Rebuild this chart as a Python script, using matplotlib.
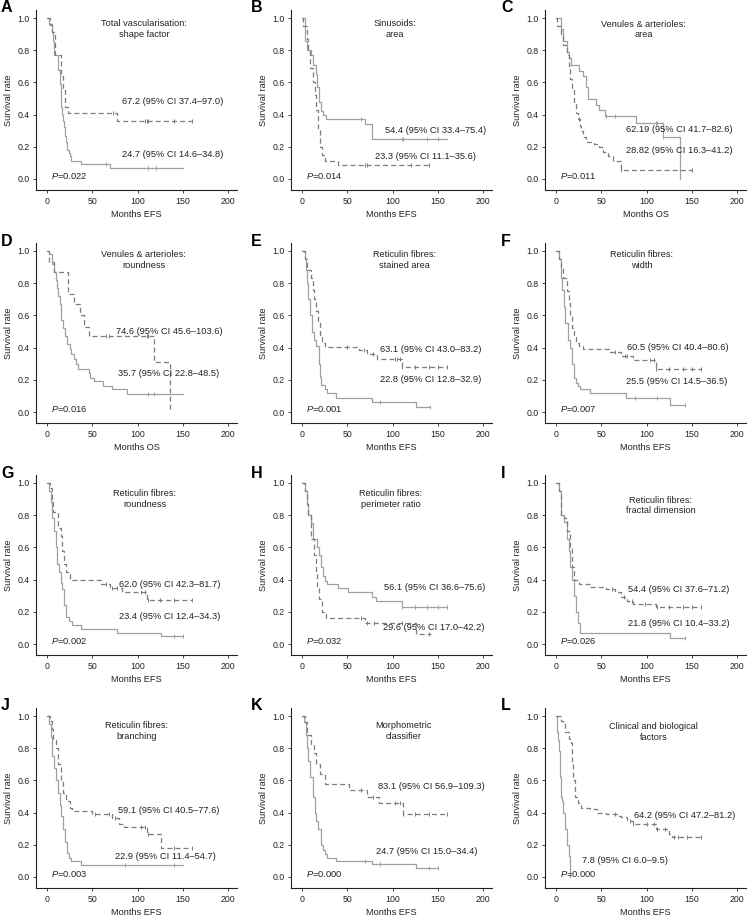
import numpy as np
import matplotlib.pyplot as plt

plt.rcParams['font.family'] = ['Liberation Sans', 'DejaVu Sans']
plt.rcParams['mathtext.fontset'] = 'custom'
plt.rcParams['mathtext.it'] = 'Liberation Sans:italic'
plt.rcParams['mathtext.rm'] = 'Liberation Sans'

### DATA ------------------------
# each curve: event times, survival after each event, end of follow-up, censored times
letters = ['A', 'B', 'C', 'D', 'E', 'F', 'G', 'H', 'I', 'J', 'K', 'L']
titles = ['Total vascularisation:\nshape factor', 'Sinusoids:\narea', 'Venules & arterioles:\narea',
          'Venules & arterioles:\nroundness', 'Reticulin fibres:\nstained area', 'Reticulin fibres:\nwidth',
          'Reticulin fibres:\nroundness', 'Reticulin fibres:\nperimeter ratio', 'Reticulin fibres:\nfractal dimension',
          'Reticulin fibres:\nbranching', 'Morphometric\nclassifier', 'Clinical and biological\nfactors']
xlabels = ['Months EFS', 'Months EFS', 'Months OS', 'Months OS', 'Months EFS', 'Months EFS',
           'Months EFS', 'Months EFS', 'Months EFS', 'Months EFS', 'Months EFS', 'Months EFS']
pvalues = ['0.022', '0.014', '0.011', '0.016', '0.001', '0.007', '0.002', '0.032', '0.026', '0.003', '0.000', '0.000']
solid_labels = ['24.7 (95% CI 14.6–34.8)', '54.4 (95% CI 33.4–75.4)', '62.19 (95% CI 41.7–82.6)',
                '35.7 (95% CI 22.8–48.5)', '22.8 (95% CI 12.8–32.9)', '25.5 (95% CI 14.5–36.5)',
                '23.4 (95% CI 12.4–34.3)', '56.1 (95% CI 36.6–75.6)', '21.8 (95% CI 10.4–33.2)',
                '22.9 (95% CI 11.4–54.7)', '24.7 (95% CI 15.0–34.4)', '7.8 (95% CI 6.0–9.5)']
dash_labels = ['67.2 (95% CI 37.4–97.0)', '23.3 (95% CI 11.1–35.6)', '28.82 (95% CI 16.3–41.2)',
               '74.6 (95% CI 45.6–103.6)', '63.1 (95% CI 43.0–83.2)', '60.5 (95% CI 40.4–80.6)',
               '62.0 (95% CI 42.3–81.7)', '29.6 (95% CI 17.0–42.2)', '54.4 (95% CI 37.6–71.2)',
               '59.1 (95% CI 40.5–77.6)', '83.1 (95% CI 56.9–109.3)', '64.2 (95% CI 47.2–81.2)']

# A
a_sol_t = [2, 5, 7, 8, 12, 14, 15, 16, 17, 18, 19, 20, 21, 22, 24, 25, 27, 38, 70]
a_sol_s = [0.96, 0.91, 0.86, 0.77, 0.68, 0.59, 0.55, 0.45, 0.40, 0.36, 0.32, 0.27, 0.23, 0.18, 0.16, 0.14, 0.114, 0.093, 0.07]
a_sol_end, a_sol_c = 150, [65, 112, 120]
a_dsh_t = [3, 6, 9, 15, 18, 20, 23, 77]
a_dsh_s = [0.955, 0.91, 0.77, 0.64, 0.55, 0.45, 0.41, 0.36]
a_dsh_end, a_dsh_c = 160, [73, 108, 110, 112, 140, 160]
# B
b_sol_t = [3, 5, 10, 12, 15, 17, 19, 21, 23, 27, 70, 77]
b_sol_s = [0.86, 0.80, 0.77, 0.71, 0.65, 0.57, 0.48, 0.42, 0.40, 0.37, 0.34, 0.25]
b_sol_end, b_sol_c = 160, [65, 110, 112, 138, 150]
b_dsh_t = [1, 5, 7, 9, 12, 14, 16, 18, 20, 22, 25, 40]
b_dsh_s = [0.95, 0.87, 0.80, 0.69, 0.60, 0.52, 0.43, 0.31, 0.20, 0.15, 0.11, 0.085]
b_dsh_end, b_dsh_c = 142, [70, 72, 120, 140]
# C
c_sol_t = [5, 8, 12, 14, 17, 25, 30, 33, 35, 44, 47, 54, 88, 118, 137]
c_sol_s = [0.93, 0.86, 0.79, 0.75, 0.71, 0.67, 0.64, 0.57, 0.50, 0.46, 0.43, 0.39, 0.35, 0.26, 0.0]
c_sol_end, c_sol_c = 137, [55, 65, 110, 112, 118]
c_dsh_t = [1, 5, 8, 12, 14, 16, 18, 20, 22, 24, 26, 28, 30, 33, 42, 48, 52, 58, 63, 72]
c_dsh_s = [0.95, 0.90, 0.83, 0.77, 0.70, 0.62, 0.55, 0.48, 0.41, 0.37, 0.33, 0.30, 0.26, 0.23, 0.22, 0.20, 0.17, 0.14, 0.11, 0.055]
c_dsh_end, c_dsh_c = 150, [25, 72, 150]
# D
d_sol_t = [2, 5, 6, 8, 10, 11, 12, 14, 15, 16, 18, 20, 22, 25, 27, 30, 32, 34, 46, 48, 52, 62, 72, 88]
d_sol_s = [0.98, 0.95, 0.92, 0.87, 0.82, 0.77, 0.72, 0.67, 0.62, 0.57, 0.52, 0.47, 0.42, 0.39, 0.36, 0.33, 0.30, 0.27, 0.24, 0.21, 0.19, 0.16, 0.14, 0.11]
d_sol_end, d_sol_c = 150, [112, 118]
d_dsh_t = [2, 8, 23, 30, 36, 41, 46, 118, 136]
d_dsh_s = [0.93, 0.87, 0.73, 0.67, 0.60, 0.53, 0.47, 0.31, 0.0]
d_dsh_end, d_dsh_c = 136, [65, 68, 110, 112]
# E
e_sol_t = [3, 4, 6, 7, 9, 11, 13, 15, 19, 20, 21, 25, 28, 38, 77, 126]
e_sol_s = [0.95, 0.88, 0.80, 0.70, 0.60, 0.50, 0.45, 0.41, 0.30, 0.22, 0.17, 0.14, 0.12, 0.09, 0.065, 0.03]
e_sol_end, e_sol_c = 141, [86, 141]
e_dsh_t = [3, 5, 10, 12, 13, 15, 18, 20, 22, 25, 63, 72, 83, 110]
e_dsh_s = [0.95, 0.88, 0.83, 0.76, 0.70, 0.63, 0.56, 0.48, 0.43, 0.405, 0.385, 0.36, 0.33, 0.28]
e_dsh_end, e_dsh_c = 160, [50, 68, 78, 103, 105, 108, 110, 125, 140, 150, 160]
# F
f_sol_t = [3, 5, 7, 9, 10, 13, 16, 18, 20, 22, 24, 27, 38, 77, 126]
f_sol_s = [0.95, 0.83, 0.76, 0.65, 0.55, 0.45, 0.40, 0.30, 0.21, 0.18, 0.16, 0.14, 0.115, 0.09, 0.045]
f_sol_end, f_sol_c = 142, [87, 112, 142]
f_dsh_t = [3, 5, 8, 12, 14, 16, 18, 20, 22, 25, 30, 60, 72, 85, 110]
f_dsh_s = [0.95, 0.90, 0.83, 0.75, 0.68, 0.60, 0.52, 0.48, 0.43, 0.41, 0.39, 0.37, 0.35, 0.32, 0.27]
f_dsh_end, f_dsh_c = 160, [65, 76, 78, 104, 108, 111, 125, 140, 150, 160]
# G
g_sol_t = [2, 4, 6, 8, 10, 11, 13, 15, 17, 19, 21, 24, 28, 38, 77, 126]
g_sol_s = [0.95, 0.88, 0.78, 0.70, 0.60, 0.50, 0.45, 0.38, 0.34, 0.24, 0.17, 0.14, 0.12, 0.095, 0.07, 0.048]
g_sol_end, g_sol_c = 150, [140, 150]
g_dsh_t = [3, 5, 7, 12, 15, 17, 19, 21, 25, 60, 70, 83, 110]
g_dsh_s = [0.97, 0.90, 0.82, 0.72, 0.67, 0.58, 0.50, 0.45, 0.395, 0.375, 0.35, 0.32, 0.275]
g_dsh_end, g_dsh_c = 160, [65, 72, 77, 104, 108, 112, 125, 140, 160]
# H
h_sol_t = [3, 5, 7, 10, 12, 17, 19, 21, 23, 25, 28, 40, 51, 77, 82, 110]
h_sol_s = [0.95, 0.87, 0.80, 0.75, 0.65, 0.60, 0.55, 0.48, 0.42, 0.39, 0.37, 0.35, 0.32, 0.29, 0.27, 0.23]
h_sol_end, h_sol_c = 160, [110, 125, 138, 150, 160]
h_dsh_t = [3, 5, 7, 10, 13, 15, 17, 19, 22, 26, 70, 126]
h_dsh_s = [0.95, 0.87, 0.80, 0.65, 0.55, 0.45, 0.35, 0.28, 0.20, 0.16, 0.13, 0.065]
h_dsh_end, h_dsh_c = 142, [65, 72, 80, 110, 140]
# I
i_sol_t = [3, 5, 9, 12, 14, 15, 18, 20, 22, 24, 27, 126]
i_sol_s = [0.95, 0.80, 0.76, 0.65, 0.58, 0.48, 0.40, 0.30, 0.20, 0.13, 0.07, 0.035]
i_sol_end, i_sol_c = 142, [142]
i_dsh_t = [3, 5, 9, 12, 15, 18, 20, 25, 38, 55, 65, 72, 78, 85, 110]
i_dsh_s = [0.95, 0.80, 0.78, 0.70, 0.60, 0.48, 0.40, 0.37, 0.355, 0.34, 0.32, 0.29, 0.27, 0.25, 0.23]
i_dsh_end, i_dsh_c = 160, [62, 75, 84, 98, 112, 125, 140, 150, 160]
# J
j_sol_t = [2, 4, 6, 8, 10, 12, 14, 16, 18, 20, 22, 24, 26, 38]
j_sol_s = [0.95, 0.87, 0.75, 0.68, 0.60, 0.52, 0.45, 0.38, 0.30, 0.22, 0.15, 0.12, 0.10, 0.075]
j_sol_end, j_sol_c = 150, [86, 140]
j_dsh_t = [3, 5, 7, 10, 12, 16, 18, 21, 25, 28, 50, 72, 80, 85, 110, 126]
j_dsh_s = [0.97, 0.92, 0.85, 0.80, 0.70, 0.60, 0.52, 0.47, 0.43, 0.41, 0.39, 0.365, 0.33, 0.31, 0.27, 0.18]
j_dsh_end, j_dsh_c = 160, [53, 68, 75, 104, 108, 112, 140, 160]
# K
k_sol_t = [2, 4, 5, 7, 9, 12, 14, 16, 18, 21, 23, 25, 28, 38, 77, 126]
k_sol_s = [0.96, 0.88, 0.80, 0.72, 0.62, 0.50, 0.40, 0.35, 0.30, 0.20, 0.17, 0.14, 0.12, 0.10, 0.08, 0.055]
k_sol_end, k_sol_c = 150, [70, 86, 140, 150]
k_dsh_t = [3, 5, 10, 13, 16, 20, 25, 52, 72, 85, 112]
k_dsh_s = [0.96, 0.88, 0.82, 0.77, 0.70, 0.64, 0.58, 0.54, 0.50, 0.46, 0.39]
k_dsh_end, k_dsh_c = 160, [65, 78, 103, 108, 112, 125, 140, 160]
# L
l_sol_t = [1, 2, 3, 4, 5, 7, 8, 10, 12, 14, 15, 16]
l_sol_s = [0.90, 0.85, 0.78, 0.62, 0.50, 0.47, 0.40, 0.30, 0.20, 0.13, 0.05, 0.0]
l_sol_end, l_sol_c = 16, []
l_dsh_t = [5, 8, 10, 14, 17, 18, 19, 21, 24, 28, 38, 45, 55, 68, 72, 78, 85, 110, 125, 128]
l_dsh_s = [0.97, 0.95, 0.90, 0.86, 0.83, 0.70, 0.60, 0.50, 0.46, 0.43, 0.42, 0.40, 0.39, 0.38, 0.37, 0.35, 0.33, 0.30, 0.27, 0.25]
l_dsh_end, l_dsh_c = 160, [65, 82, 85, 100, 108, 112, 120, 130, 135, 145, 160]

solid_curves = [(a_sol_t, a_sol_s, a_sol_end, a_sol_c), (b_sol_t, b_sol_s, b_sol_end, b_sol_c),
                (c_sol_t, c_sol_s, c_sol_end, c_sol_c), (d_sol_t, d_sol_s, d_sol_end, d_sol_c),
                (e_sol_t, e_sol_s, e_sol_end, e_sol_c), (f_sol_t, f_sol_s, f_sol_end, f_sol_c),
                (g_sol_t, g_sol_s, g_sol_end, g_sol_c), (h_sol_t, h_sol_s, h_sol_end, h_sol_c),
                (i_sol_t, i_sol_s, i_sol_end, i_sol_c), (j_sol_t, j_sol_s, j_sol_end, j_sol_c),
                (k_sol_t, k_sol_s, k_sol_end, k_sol_c), (l_sol_t, l_sol_s, l_sol_end, l_sol_c)]
dash_curves = [(a_dsh_t, a_dsh_s, a_dsh_end, a_dsh_c), (b_dsh_t, b_dsh_s, b_dsh_end, b_dsh_c),
               (c_dsh_t, c_dsh_s, c_dsh_end, c_dsh_c), (d_dsh_t, d_dsh_s, d_dsh_end, d_dsh_c),
               (e_dsh_t, e_dsh_s, e_dsh_end, e_dsh_c), (f_dsh_t, f_dsh_s, f_dsh_end, f_dsh_c),
               (g_dsh_t, g_dsh_s, g_dsh_end, g_dsh_c), (h_dsh_t, h_dsh_s, h_dsh_end, h_dsh_c),
               (i_dsh_t, i_dsh_s, i_dsh_end, i_dsh_c), (j_dsh_t, j_dsh_s, j_dsh_end, j_dsh_c),
               (k_dsh_t, k_dsh_s, k_dsh_end, k_dsh_c), (l_dsh_t, l_dsh_s, l_dsh_end, l_dsh_c)]

# label positions (data coords)
title_pos = [(107, 0.93), (103, 0.934), (97, 0.928), (107, 0.944), (113, 0.946), (95, 0.946),
             (108, 0.90), (98, 0.90), (116, 0.86), (99, 0.907), (112, 0.907), (108, 0.90)]
solid_pos = [(83, 0.15), (92, 0.30), (77, 0.31), (78, 0.24), (86, 0.20), (77, 0.19),
             (80, 0.17), (91, 0.35), (80, 0.13), (75, 0.13), (82, 0.16), (29, 0.10)]
dash_pos = [(83, 0.48), (81, 0.14), (77, 0.18), (76, 0.50), (86, 0.39), (78, 0.40),
            (80, 0.37), (90, 0.105), (80, 0.34), (78, 0.41), (84, 0.56), (86, 0.38)]


### HELPERS ------------------------
def draw_km(ax, t, s, end, cens, ls, color):
    x = np.r_[0, t, end]
    y = np.r_[1, s, s[-1]]
    ax.step(x, y, where='post', ls=ls, color=color, lw=0.9)
    if cens:
        idx = np.searchsorted(t, cens, side='right')
        cy = np.r_[1, s][idx]
        ax.plot(cens, cy, ls='none', marker='|', ms=3.5, mew=0.7, color=color)


### FIGURE ------------------------
W, H = 749, 917
fig = plt.figure(figsize=(W / 100, H / 100), dpi=100)
col_x0 = [47, 302, 556]       # pixel of x=0
row_y1 = [18, 251, 483, 716]  # pixel of y=1.0
px_x, px_y = 0.905, 161
xlim = (-12, 210)
ylim = (-0.07, 1.05)
solid_col = '#a0a0a0'
dash_col = '#7c7c7c'
txt_col = '#222222'

for k in range(12):
    r, c = divmod(k, 3)
    left = col_x0[c] + xlim[0] * px_x
    right = col_x0[c] + xlim[1] * px_x
    top = row_y1[r] - (ylim[1] - 1) * px_y
    bottom = row_y1[r] + (1 - ylim[0]) * px_y
    ax = fig.add_axes([left / W, 1 - bottom / H, (right - left) / W, (bottom - top) / H])
    draw_km(ax, *solid_curves[k], '-', solid_col)
    draw_km(ax, *dash_curves[k], (0, (4, 2.5)), dash_col)
    ax.set_xlim(*xlim)
    ax.set_ylim(*ylim)
    ax.set_xticks([0, 50, 100, 150, 200])
    ax.set_yticks([0.0, 0.2, 0.4, 0.6, 0.8, 1.0])
    ax.set_yticklabels(['0.0', '0.2', '0.4', '0.6', '0.8', '1.0'])
    ax.tick_params(labelsize=6.3, length=2.5, width=0.6, pad=2, colors='#222222')
    for sp in ['top', 'right']:
        ax.spines[sp].set_visible(False)
    for sp in ['left', 'bottom']:
        ax.spines[sp].set_linewidth(0.8)
        ax.spines[sp].set_color('#222222')
    ax.set_xlabel(xlabels[k], fontsize=6.6, labelpad=3, color=txt_col)
    ax.set_ylabel('Survival rate', fontsize=6.6, labelpad=3, color=txt_col)
    ax.text(*title_pos[k], titles[k], ha='center', va='center', fontsize=6.6, color=txt_col, linespacing=1.25)
    ax.text(*solid_pos[k], solid_labels[k], ha='left', va='center', fontsize=6.7, color=txt_col)
    ax.text(*dash_pos[k], dash_labels[k], ha='left', va='center', fontsize=6.7, color=txt_col)
    ax.text(4, 0.02, '$P$' + '=' + pvalues[k], ha='left', va='center', fontsize=6.7, color=txt_col)
    fig.text((c * 250 + 1) / W, 1 - (row_y1[r] - 10) / H, letters[k], fontsize=11.5, fontweight='bold',
             ha='left', va='center')

fig.savefig('out.png', dpi=100)
